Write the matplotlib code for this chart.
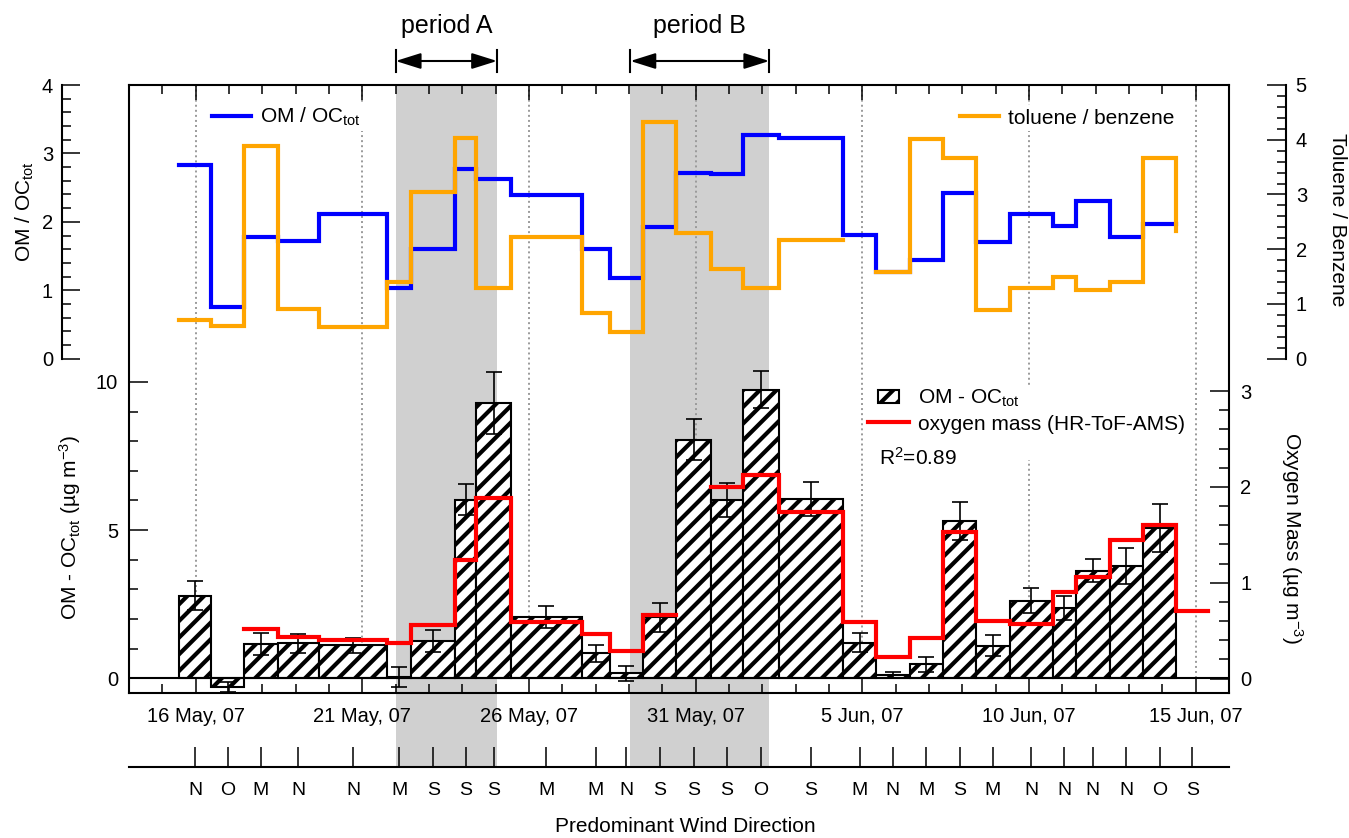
import numpy as np
import pandas as pd
import matplotlib
matplotlib.use("Agg")
import matplotlib.pyplot as plt
import matplotlib.dates as mdates
import matplotlib.patches as mpatches
from matplotlib.lines import Line2D
from matplotlib.ticker import FixedLocator, FuncFormatter, NullLocator
from matplotlib.legend_handler import HandlerPatch

nan = np.nan

# filter sampling intervals (start / stop)
edges = pd.to_datetime([
    "2007-05-15 12:00", "2007-05-16 11:00", "2007-05-17 11:00", "2007-05-18 11:00",
    "2007-05-19 17:00", "2007-05-21 18:00", "2007-05-22 11:00", "2007-05-23 19:00",
    "2007-05-24 10:00", "2007-05-25 11:00", "2007-05-27 14:00", "2007-05-28 10:00",
    "2007-05-29 10:00", "2007-05-30 10:00", "2007-05-31 11:00", "2007-06-01 10:00",
    "2007-06-02 12:00", "2007-06-04 10:00", "2007-06-05 10:00", "2007-06-06 10:00",
    "2007-06-07 10:00", "2007-06-08 10:00", "2007-06-09 10:00", "2007-06-10 17:00",
    "2007-06-11 10:00", "2007-06-12 10:00", "2007-06-13 10:00", "2007-06-14 10:00",
    "2007-06-15 09:00"])

wind = ["N", "O", "M", "N", "N", "M", "S", "S", "S", "M", "M", "N", "S", "S",
        "S", "O", "S", "M", "N", "M", "S", "M", "N", "N", "N", "N", "O", "S"]

om_minus_oc = [2.79, -0.30, 1.16, 1.18, 1.11, 0.05, 1.24, 6.02, 9.29, 2.08, 0.84, 0.17, 2.05, 8.05,
               6.02, 9.74, 6.05, 1.20, 0.11, 0.47, 5.31, 1.10, 2.62, 2.36, 3.63, 3.79, 5.07, nan]
om_minus_oc_err = [0.50, 0.17, 0.38, 0.32, 0.26, 0.34, 0.37, 0.52, 1.05, 0.37, 0.28, 0.25, 0.50, 0.70,
                   0.58, 0.62, 0.57, 0.33, 0.10, 0.26, 0.64, 0.35, 0.42, 0.40, 0.39, 0.62, 0.82, nan]
oxygen_mass = [nan, nan, 0.52, 0.43, 0.40, 0.37, 0.56, 1.24, 1.88, 0.59, 0.46, 0.29, 0.66, nan,
               2.00, 2.12, 1.74, 0.59, 0.22, 0.42, 1.53, 0.60, 0.57, 0.90, 1.06, 1.45, 1.60, 0.71]
om_oc = [2.83, 0.75, 1.78, 1.72, 2.11, 1.03, 1.61, 2.77, 2.63, 2.39, 1.61, 1.18, 1.93, 2.72,
         2.70, 3.27, 3.22, 1.81, 1.26, 1.44, 2.42, 1.70, 2.12, 1.94, 2.31, 1.78, 1.97]
# last value only shows as the closing step
tol_benz = [0.71, 0.60, 3.89, 0.91, 0.58, 1.40, 3.05, 4.03, 1.30, 2.23, 0.83, 0.48, 4.33, 2.29,
            1.64, 1.29, 2.17, nan, 1.59, 4.01, 3.67, 0.89, 1.29, 1.49, 1.26, 1.41, 3.67, 2.34]

period_a = pd.to_datetime(["2007-05-22 00:00", "2007-05-25 01:00"])
period_b = pd.to_datetime(["2007-05-29 01:00", "2007-06-02 05:00"])
date_ticks = pd.date_range("2007-05-16", "2007-06-15", freq="5D")
day_ticks = pd.date_range("2007-05-14", "2007-06-16", freq="D")
x_range = pd.to_datetime(["2007-05-14", "2007-06-16"])

plt.rcParams["font.family"] = ["Liberation Sans", "DejaVu Sans"]
plt.rcParams["mathtext.fontset"] = "custom"
plt.rcParams["mathtext.rm"] = "Liberation Sans"
plt.rcParams["mathtext.it"] = "Liberation Sans:italic"
plt.rcParams["mathtext.default"] = "regular"
plt.rcParams["hatch.linewidth"] = 3.0
plt.rcParams["font.size"] = 15

W, H = 1349, 838
fig = plt.figure(figsize=(W / 100, H / 100), dpi=100)

def rect(x0, y0, x1, y1):
    # pixel box (y measured from top) -> figure fraction
    return [x0 / W, 1 - y1 / H, (x1 - x0) / W, (y1 - y0) / H]

xe = mdates.date2num(edges)
xc = (xe[:-1] + xe[1:]) / 2
xlim = mdates.date2num(x_range)
FT, FB = 85, 693  # frame top / bottom in px

# shaded periods (reach down to wind axis)
ax_bg = fig.add_axes(rect(129, FT, 1229, 767))
ax_bg.set_xlim(xlim)
ax_bg.axis("off")
for p in (period_a, period_b):
    p0, p1 = mdates.date2num(p)
    ax_bg.axvspan(p0, p1, color="#d0d0d0", lw=0)

# main frame: OM - OC bars
ax = fig.add_axes(rect(129, FT, 1229, FB))
ax.set_facecolor("none")
ax.set_xlim(xlim)
ax.set_ylim(-0.5, 20.02)
for s in ax.spines.values():
    s.set_linewidth(1.5)

ax.bar(xe[:-1], om_minus_oc, width=np.diff(xe), align="edge", facecolor="white",
       edgecolor="k", hatch="//", linewidth=1.5, zorder=2)
ax.errorbar(xc, om_minus_oc, yerr=om_minus_oc_err, fmt="none", ecolor="k",
            elinewidth=1.2, capsize=6, capthick=1.2, zorder=3)
ax.axhline(0, color="k", lw=1.5, zorder=2.5)
for d in mdates.date2num(date_ticks):
    ax.axvline(d, ymin=(FB - 678.3) / (FB - FT), ymax=1, color="#9a9a9a",
               ls=(0, (1, 1.6)), lw=1.4, zorder=0.5)

ax.xaxis.set_major_locator(FixedLocator(mdates.date2num(date_ticks)))
ax.xaxis.set_minor_locator(FixedLocator(mdates.date2num(day_ticks)))
ax.xaxis.set_major_formatter(FuncFormatter(
    lambda v, p: "{} {}".format(mdates.num2date(v).day, mdates.num2date(v).strftime("%b, %y"))))
ax.tick_params(axis="x", which="both", direction="in", top=True, bottom=True, width=1.1,
               labelsize=14.5, pad=10)
ax.tick_params(axis="x", which="major", length=11)
ax.tick_params(axis="x", which="minor", length=6.5)
ax.yaxis.set_major_locator(FixedLocator([0, 5, 10]))
ax.yaxis.set_minor_locator(FixedLocator(range(0, 11)))
ax.tick_params(axis="y", which="both", direction="in", left=True, right=False, width=1.1,
               labelsize=14.5, pad=8)
ax.tick_params(axis="y", which="major", length=13.5)
ax.tick_params(axis="y", which="minor", length=6.8)

def step(a, y, color, end=nan):
    xs = xe[:len(y) + 1]
    ys = list(y) + [end]
    a.plot(xs, ys, drawstyle="steps-post", color=color, lw=3, solid_joinstyle="miter")

# top panel: OM / OC (left, detached)
ax_top = ax.twinx()
ax_top.set_ylim(4 - (FB - FT) / 68.43, 4)
for k, s in ax_top.spines.items():
    s.set_visible(k == "left")
ax_top.spines["left"].set_position(("outward", 67 * 0.72))
ax_top.spines["left"].set_bounds(0, 4)
ax_top.spines["left"].set_linewidth(1.5)
ax_top.yaxis.tick_left()
ax_top.yaxis.set_major_locator(FixedLocator([0, 1, 2, 3, 4]))
ax_top.yaxis.set_minor_locator(FixedLocator(np.round(np.arange(0, 4.01, 0.2), 1)))
ax_top.tick_params(axis="y", which="both", direction="in", width=1.1, labelsize=14.5, pad=6.5)
ax_top.tick_params(axis="y", which="major", length=13)
ax_top.tick_params(axis="y", which="minor", length=6.5)
step(ax_top, om_oc, "#0000ff")

# top panel: toluene / benzene (right, detached)
ax_tol = ax.twinx()
ax_tol.set_ylim(5 - (FB - FT) / 54.74, 5)
for k, s in ax_tol.spines.items():
    s.set_visible(k == "right")
ax_tol.spines["right"].set_position(("outward", 57 * 0.72))
ax_tol.spines["right"].set_bounds(0, 5)
ax_tol.spines["right"].set_linewidth(1.5)
ax_tol.yaxis.set_major_locator(FixedLocator([0, 1, 2, 3, 4, 5]))
ax_tol.yaxis.set_minor_locator(FixedLocator(np.round(np.arange(0, 5.01, 0.2), 1)))
ax_tol.tick_params(axis="y", which="both", direction="in", width=1.1, labelsize=14.5, pad=7)
ax_tol.tick_params(axis="y", which="major", length=13.5)
ax_tol.tick_params(axis="y", which="minor", length=6.5)
step(ax_tol, tol_benz[:-1], "#ffa500", end=tol_benz[-1])

# bottom panel: oxygen mass (right)
ax_oxy = ax.twinx()
ax_oxy.set_ylim(-(FB - 678.5) / 95.77, (678.5 - FT) / 95.77)
for s in ax_oxy.spines.values():
    s.set_visible(False)
ax_oxy.yaxis.set_major_locator(FixedLocator([0, 1, 2, 3]))
ax_oxy.yaxis.set_minor_locator(FixedLocator(np.round(np.arange(0, 3.01, 0.2), 1)))
ax_oxy.tick_params(axis="y", which="both", direction="in", width=1.1, labelsize=14.5, pad=8)
ax_oxy.tick_params(axis="y", which="major", length=13.5)
ax_oxy.tick_params(axis="y", which="minor", length=7)
step(ax_oxy, oxygen_mass, "#ff0000")

# legends
leg_kw = dict(loc="center left", bbox_transform=fig.transFigure, frameon=True,
              facecolor="white", edgecolor="none", framealpha=1, fancybox=False,
              borderpad=0.15, borderaxespad=0, handlelength=1.85, handletextpad=0.45,
              fontsize=15)
ax_top.legend([Line2D([], [], color="#0000ff", lw=3)], ["OM / OC$_{tot}$"],
              bbox_to_anchor=(209 / W, 1 - 117 / H), **leg_kw)
ax_tol.legend([Line2D([], [], color="#ffa500", lw=3)], ["toluene / benzene"],
              bbox_to_anchor=(957 / W, 1 - 118 / H), **leg_kw)

def small_box(legend, orig_handle, xdescent, ydescent, width, height, fontsize):
    return mpatches.Rectangle((-xdescent + 0.25 * width, -ydescent + 0.05 * height),
                              0.5 * width, 0.9 * height)

h_bar = mpatches.Patch(facecolor="white", edgecolor="k", hatch="//", lw=1.5)
h_red = Line2D([], [], color="#ff0000", lw=3)
h_blank = Line2D([], [], color="none")
leg_kw2 = dict(leg_kw)
leg_kw2.update(loc="upper left", handlelength=1.95, handletextpad=0.45, labelspacing=0.25,
               borderpad=0.1)
ax_oxy.legend([h_bar, h_red, h_blank], ["OM - OC$_{tot}$", "oxygen mass (HR-ToF-AMS)", " "],
              bbox_to_anchor=(866 / W, 1 - 386 / H),
              handler_map={h_bar: HandlerPatch(patch_func=small_box)}, **leg_kw2)
fig.text(879 / W, 1 - 458 / H, "R$^2$=0.89", ha="left", va="center", fontsize=15)

# period arrows
trans = ax.get_xaxis_transform()
ya = (FB - 61) / (FB - FT)
for p, name in ((period_a, "period A"), (period_b, "period B")):
    p0, p1 = mdates.date2num(p)
    ax.annotate("", xy=(p0, ya), xytext=(p1, ya), xycoords=trans, textcoords=trans,
                arrowprops=dict(arrowstyle="<|-|>,head_length=0.7,head_width=0.22", color="k",
                                lw=1.5, mutation_scale=22, shrinkA=0, shrinkB=0),
                annotation_clip=False)
    for xv in (p0, p1):
        ax.plot([xv, xv], [(FB - 50) / (FB - FT), (FB - 72) / (FB - FT)], transform=trans,
                color="k", lw=1.5, clip_on=False)
    ax.text((p0 + p1) / 2, (FB - 26) / (FB - FT), name, transform=trans,
            ha="center", va="center", fontsize=18)

# wind direction axis
ax_w = fig.add_axes(rect(129, 766, 1229, 767))
ax_w.set_facecolor("none")
ax_w.set_xlim(xlim)
for k, s in ax_w.spines.items():
    s.set_visible(k == "bottom")
ax_w.spines["bottom"].set_linewidth(1.5)
ax_w.set_yticks([])
ax_w.set_xticks(xc)
ax_w.set_xticklabels(wind)
ax_w.xaxis.set_minor_locator(NullLocator())
ax_w.tick_params(axis="x", direction="in", length=14.5, width=1.1, labelsize=14, pad=11)

# axis titles
fig.text(25 / W, 1 - 212 / H, "OM / OC$_{tot}$", rotation=90, ha="center", va="center", fontsize=15)
fig.text(1338 / W, 1 - 220 / H, "Toluene / Benzene", rotation=270, ha="center", va="center", fontsize=15)
fig.text(70 / W, 1 - 527 / H, "OM - OC$_{tot}$ (µg m$^{-3}$)", rotation=90, ha="center", va="center", fontsize=15)
fig.text(1292 / W, 1 - 538 / H, "Oxygen Mass (µg m$^{-3}$)", rotation=270, ha="center", va="center", fontsize=15)
fig.text(685 / W, 1 - 826 / H, "Predominant Wind Direction", ha="center", va="center", fontsize=15)

fig.savefig("out.png", dpi=100)
